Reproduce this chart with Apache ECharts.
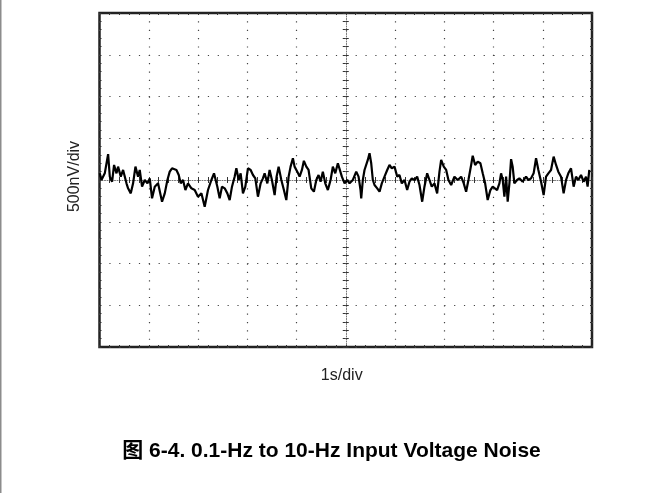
<!DOCTYPE html>
<html>
<head>
<meta charset="utf-8">
<script src="https://cdn.jsdelivr.net/npm/echarts@6/dist/echarts.min.js"></script>
<style>
html,body{margin:0;padding:0;background:#fff;}
#chart{width:663px;height:493px;}
</style>
</head>
<body>
<div id="chart"></div>
<script>
// Time (s) of each trace sample, 1 s/div, 10 divisions
const timeS = [0.006,0.04,0.107,0.175,0.209,0.256,0.296,0.345,0.377,0.432,0.479,0.548,0.580,0.635,0.682,0.730,0.783,0.817,0.864,0.919,0.974,1.020,1.067,1.122,1.189,1.270,1.325,1.379,1.426,1.473,1.562,1.609,1.649,1.696,1.744,1.797,1.866,1.933,2.000,2.069,2.136,2.203,2.272,2.325,2.393,2.440,2.487,2.542,2.596,2.643,2.690,2.744,2.779,2.826,2.866,2.913,2.961,3.014,3.069,3.116,3.164,3.217,3.272,3.318,3.353,3.408,3.454,3.501,3.556,3.596,3.637,3.692,3.744,3.793,3.840,3.880,3.927,3.961,4.016,4.063,4.110,4.150,4.199,4.245,4.300,4.353,4.402,4.448,4.489,4.535,4.584,4.637,4.692,4.738,4.787,4.840,4.874,4.921,4.976,5.030,5.077,5.144,5.213,5.260,5.300,5.314,5.347,5.381,5.416,5.448,5.483,5.517,5.550,5.584,5.639,5.686,5.732,5.787,5.842,5.888,5.935,5.990,6.045,6.091,6.138,6.193,6.247,6.294,6.341,6.396,6.450,6.497,6.552,6.598,6.653,6.700,6.746,6.801,6.856,6.903,6.937,6.990,7.039,7.085,7.140,7.207,7.274,7.343,7.396,7.444,7.491,7.546,7.578,7.627,7.680,7.734,7.781,7.830,7.882,7.937,7.984,8.018,8.073,8.120,8.154,8.187,8.221,8.256,8.288,8.323,8.357,8.389,8.424,8.479,8.525,8.592,8.661,8.708,8.763,8.815,8.864,8.911,8.966,9.018,9.067,9.114,9.168,9.221,9.270,9.316,9.371,9.424,9.473,9.519,9.574,9.627,9.675,9.722,9.777,9.830,9.878,9.911,9.945];
// Input voltage noise (nV), 500 nV/div
const noiseNV = [80,0,80,310,40,-20,180,80,160,40,120,-40,-100,-160,-40,160,40,120,-80,0,-40,20,-220,-80,-40,-260,-160,0,100,140,120,60,-40,0,-120,-40,-100,-120,-200,-160,-320,-120,0,80,-80,-220,-80,-100,-160,-240,-80,40,140,0,80,-160,-80,140,120,60,20,-200,-40,20,80,-40,120,0,-180,40,160,0,-120,-240,40,160,260,160,100,40,120,230,160,120,-100,-140,0,60,-20,100,-40,-120,0,160,80,200,220,40,-40,0,-40,0,100,40,-120,-220,0,120,140,240,320,200,0,-60,-100,-140,-40,40,120,180,140,160,40,60,-40,0,-120,-20,20,0,40,-60,-260,-80,80,0,-80,-40,-160,100,240,160,120,0,-60,40,0,40,-40,-140,0,180,290,180,220,200,80,-40,-240,-120,-80,-60,-120,-40,80,0,-200,40,-260,-40,250,160,-40,0,20,-20,40,0,20,80,260,120,-20,-180,40,80,120,280,180,100,40,-160,0,80,140,-80,40,0,60,-20,40,-80,120];
const xAxisName = '1s/div';
const yAxisName = '500nV/div';
const titleText = '图 6-4. 0.1-Hz to 10-Hz Input Voltage Noise';

const trace = timeS.map((t, i) => [t, noiseNV[i]]);
const FONT = '"Liberation Sans", Arial, Helvetica, "Noto Sans CJK SC", sans-serif';
const tickStyle = { color: '#333', width: 1 };
const off = { show: false };

const chart = echarts.init(document.getElementById('chart'), null, { renderer: 'canvas' });
chart.setOption({
  animation: false,
  backgroundColor: '#ffffff',
  title: {
    text: titleText,
    left: 'center',
    top: 436,
    textStyle: { fontFamily: FONT, fontSize: 21, fontWeight: 'bold', color: '#000' }
  },
  graphic: [{
    type: 'rect', left: 0, top: 0,
    shape: { width: 1.5, height: 493 },
    style: { fill: '#8c8c8c' }
  }],
  grid: {
    left: 99.5, top: 13, width: 492.5, height: 334,
    show: true, borderColor: '#222', borderWidth: 2.5, backgroundColor: '#fff'
  },
  xAxis: [
    { // bottom border + vertical grid
      type: 'value', min: 0, max: 10, interval: 1, position: 'bottom',
      name: xAxisName, nameLocation: 'middle', nameGap: 21,
      nameTextStyle: { fontFamily: FONT, fontSize: 16, color: '#222', padding: [0, 8, 0, 0] },
      axisLine: { show: false, onZero: false },
      axisLabel: off,
      axisTick: { show: true, inside: true, length: 2, lineStyle: tickStyle },
      minorTick: { show: true, splitNumber: 5, length: 2, lineStyle: tickStyle },
      splitLine: { show: true, lineStyle: { color: '#444', width: 1.2, type: [1.2, 7.15] } }
    },
    { // top border ticks
      type: 'value', min: 0, max: 10, interval: 1, position: 'top',
      axisLine: { show: false, onZero: false }, axisLabel: off, splitLine: off,
      axisTick: { show: true, inside: true, length: 2, lineStyle: tickStyle },
      minorTick: { show: true, splitNumber: 5, length: 2, lineStyle: tickStyle }
    },
    { // horizontal centre line, ticks downward
      type: 'value', min: 0, max: 10, interval: 1, position: 'bottom',
      axisLine: { show: true, onZero: true, onZeroAxisIndex: 0,
        lineStyle: { color: '#777', width: 1, type: [1, 1.5] } },
      axisLabel: off, splitLine: off,
      axisTick: { show: true, inside: false, length: 3, lineStyle: tickStyle },
      minorTick: { show: true, splitNumber: 5, length: 3, lineStyle: tickStyle }
    },
    { // horizontal centre line, ticks upward
      type: 'value', min: 0, max: 10, interval: 1, position: 'top',
      axisLine: { show: false, onZero: true, onZeroAxisIndex: 0 },
      axisLabel: off, splitLine: off,
      axisTick: { show: true, inside: false, length: 3, lineStyle: tickStyle },
      minorTick: { show: true, splitNumber: 5, length: 3, lineStyle: tickStyle }
    },
    { // centred helper scale for the vertical centre line
      type: 'value', min: -5, max: 5, interval: 1, position: 'bottom',
      axisLine: { show: false, onZero: false }, axisLabel: off, axisTick: off, splitLine: off
    }
  ],
  yAxis: [
    { // left border + horizontal grid
      type: 'value', min: -2000, max: 2000, interval: 500, position: 'left',
      name: yAxisName, nameLocation: 'middle', nameGap: 17, nameRotate: 90,
      nameTextStyle: { fontFamily: FONT, fontSize: 16, color: '#222', padding: [0, 0, 0, 7] },
      axisLine: { show: false, onZero: false },
      axisLabel: off,
      axisTick: { show: true, inside: true, length: 2, lineStyle: tickStyle },
      minorTick: { show: true, splitNumber: 5, length: 2, lineStyle: tickStyle },
      splitLine: { show: true, lineStyle: { color: '#444', width: 1.2, type: [1.2, 8.65] } }
    },
    { // right border ticks
      type: 'value', min: -2000, max: 2000, interval: 500, position: 'right',
      axisLine: { show: false, onZero: false }, axisLabel: off, splitLine: off,
      axisTick: { show: true, inside: true, length: 2, lineStyle: tickStyle },
      minorTick: { show: true, splitNumber: 5, length: 2, lineStyle: tickStyle }
    },
    { // vertical centre line, ticks leftward
      type: 'value', min: -2000, max: 2000, interval: 500, position: 'left',
      axisLine: { show: true, onZero: true, onZeroAxisIndex: 4,
        lineStyle: { color: '#777', width: 1, type: [1, 1.5] } },
      axisLabel: off, splitLine: off,
      axisTick: { show: true, inside: false, length: 3, lineStyle: tickStyle },
      minorTick: { show: true, splitNumber: 5, length: 3, lineStyle: tickStyle }
    },
    { // vertical centre line, ticks rightward
      type: 'value', min: -2000, max: 2000, interval: 500, position: 'right',
      axisLine: { show: false, onZero: true, onZeroAxisIndex: 4 },
      axisLabel: off, splitLine: off,
      axisTick: { show: true, inside: false, length: 3, lineStyle: tickStyle },
      minorTick: { show: true, splitNumber: 5, length: 3, lineStyle: tickStyle }
    }
  ],
  series: [{
    type: 'line',
    xAxisIndex: 0, yAxisIndex: 0,
    data: trace,
    showSymbol: false,
    symbol: 'none',
    lineStyle: { color: '#000', width: 2.2 },
    z: 5
  }]
});
</script>
</body>
</html>
